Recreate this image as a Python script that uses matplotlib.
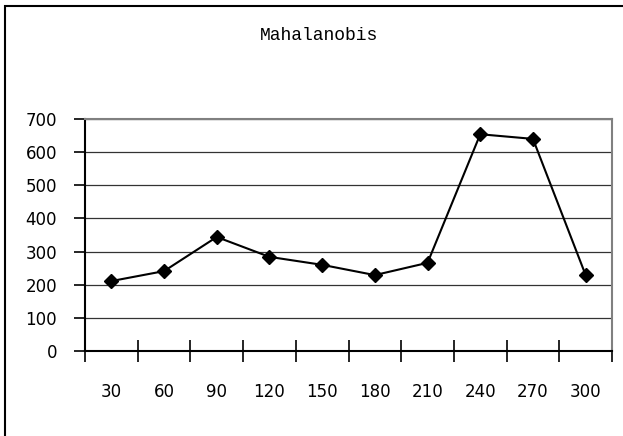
import numpy as np
import matplotlib.pyplot as plt
from matplotlib.patches import Rectangle

# Mahalanobis distance per angle
angles = ['30', '60', '90', '120', '150', '180', '210', '240', '270', '300']
distance = [211, 241, 344, 284, 260, 229, 266, 654, 640, 229]
y_ticks = [0, 100, 200, 300, 400, 500, 600, 700]

fig = plt.figure(figsize=(6.23, 4.36), dpi=100)
ax = fig.add_axes([85 / 623, (436 - 351) / 436, 527 / 623, 232 / 436])

# outer frame
fig.patches.append(Rectangle((4.5 / 623, -0.05), 1.2, (436 - 6.5) / 436 + 0.05,
                             transform=fig.transFigure, fill=False,
                             edgecolor='black', lw=1.5))

x = np.arange(len(angles)) + 0.5
ax.plot(x, distance, color='black', lw=1.5, marker='D', markersize=7.5,
        markerfacecolor='black', zorder=3, clip_on=False)

ax.set_xlim(0, len(angles))
ax.set_ylim(0, 700)

# category axis: ticks between categories, labels in the middle
ax.set_xticks(np.arange(len(angles) + 1))
ax.set_xticklabels([])
ax.set_xticks(x, minor=True)
ax.set_xticklabels(angles, minor=True, fontsize=12, family='DejaVu Sans')
ax.tick_params(axis='x', which='major', direction='inout', length=16, width=1.2)
ax.tick_params(axis='x', which='minor', length=0, pad=23)

ax.set_yticks(y_ticks)
ax.set_yticklabels([str(v) for v in y_ticks], fontsize=12, family='DejaVu Sans')
ax.tick_params(axis='y', direction='out', length=8, width=1.2, pad=12)

ax.yaxis.grid(True, color='#333333', lw=0.9)
ax.set_axisbelow(True)

for side in ['left', 'bottom']:
    ax.spines[side].set_color('black')
    ax.spines[side].set_linewidth(1.5)
for side in ['top', 'right']:
    ax.spines[side].set_color('#808080')
    ax.spines[side].set_linewidth(1.5)

fig.text(319 / 623, 1 - 36 / 436, 'Mahalanobis', ha='center', va='center',
         fontsize=13, family='Liberation Mono')

fig.savefig('out.png', dpi=100)
